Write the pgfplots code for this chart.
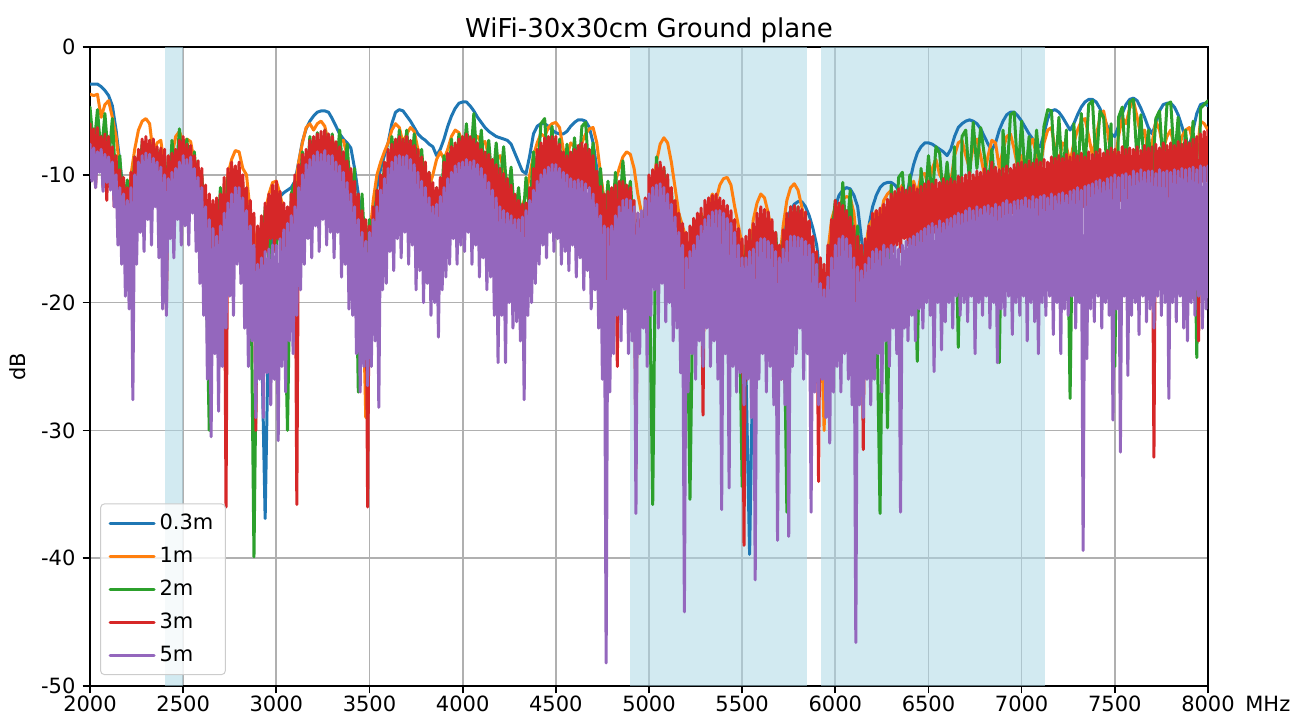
\documentclass[border=0pt]{standalone}
\usepackage{fontspec}
\setmainfont{DejaVu Sans}
\usepackage{pgfplots}
\pgfplotsset{compat=1.18}
\definecolor{tabblue}{RGB}{31,119,180}
\definecolor{taborange}{RGB}{255,127,14}
\definecolor{tabgreen}{RGB}{44,160,44}
\definecolor{tabred}{RGB}{214,39,40}
\definecolor{tabpurple}{RGB}{148,103,189}
\definecolor{shade}{RGB}{173,216,230}
\definecolor{gridc}{RGB}{176,176,176}
\definecolor{legc}{RGB}{204,204,204}
\begin{document}
\begin{tikzpicture}
\begin{axis}[
  scale only axis, width=559pt, height=319.5pt,
  xmin=2000, xmax=8000, ymin=-50, ymax=0,
  xtick={2000,2500,3000,3500,4000,4500,5000,5500,6000,6500,7000,7500,8000},
  xticklabels={2000,2500,3000,3500,4000,4500,5000,5500,6000,6500,7000,7500,8000},
  ytick={-50,-40,-30,-20,-10,0},
  yticklabels={-50,-40,-30,-20,-10,0},
  tick pos=left, tick align=outside, major tick length=3.7pt,
  tick style={black, line width=0.85pt},
  axis line style={black, line width=0.85pt},
  grid=major, grid style={gridc, line width=0.85pt},
  ticklabel style={font=\fontsize{10.5}{12.6}\selectfont},
  xticklabel style={anchor=base, inner sep=0pt, yshift=-8.9pt},
  yticklabel style={anchor=east, inner sep=0pt, xshift=-3.4pt},
  title={WiFi-30x30cm Ground plane},
  every axis title shift=0pt,
  title style={at={(rel axis cs:0.5,1.0156)}, anchor=base, inner sep=0pt, font=\fontsize{13}{15.6}\selectfont},
  ylabel={dB},
  ylabel style={at={(rel axis cs:-0.0644,0.5)}, anchor=center, inner sep=0pt, font=\fontsize{10.5}{12.6}\selectfont},
  xlabel={MHz},
  xlabel style={at={(rel axis cs:1,0)}, anchor=base west, xshift=18.5pt, yshift=-12.6pt, inner sep=0pt, font=\fontsize{10.5}{12.6}\selectfont},
  every axis plot/.append style={line width=1.5pt, line join=round, line cap=round},
  legend style={at={(rel axis cs:0.009,0.017)}, anchor=south west, draw=legc, line width=0.5pt, fill=white, fill opacity=0.8, draw opacity=1, text opacity=1, rounded corners=2pt, font=\fontsize{10.5}{12.6}\selectfont, inner xsep=4pt, inner ysep=3pt, row sep=3.3pt},
  legend cell align=left,
  legend image code/.code={\draw[#1] (0pt,0pt) -- (22pt,0pt);},
]
\addplot[draw=none, fill=shade, fill opacity=0.55, forget plot] coordinates {(2400,-50)(2400,0)(2500,0)(2500,-50)};
\addplot[draw=none, fill=shade, fill opacity=0.55, forget plot] coordinates {(4900,-50)(4900,0)(5850,0)(5850,-50)};
\addplot[draw=none, fill=shade, fill opacity=0.55, forget plot] coordinates {(5925,-50)(5925,0)(7125,0)(7125,-50)};
% 0.3m
\addplot[tabblue] coordinates {
(2000,-2.9)(2020,-2.9)(2040,-2.9)(2060,-3.1)(2080,-3.4)(2100,-3.8)(2120,-4.6)(2140,-6.5)(2160,-9)(2180,-11.5)
(2200,-13)(2220,-12)(2240,-10.5)(2260,-10)(2280,-9.5)(2300,-9.5)(2320,-9.8)(2340,-10.5)(2360,-11)(2380,-11.5)
(2400,-12)(2420,-11.5)(2440,-10.5)(2460,-10)(2480,-10)(2500,-10.2)(2520,-10.5)(2540,-11)(2560,-11.5)(2580,-12.5)
(2600,-13.5)(2620,-14.5)(2640,-14.8)(2660,-14.7)(2680,-14.8)(2700,-14.8)(2720,-14.5)(2740,-13.5)(2760,-12.5)(2780,-12)
(2800,-12)(2820,-12.5)(2840,-13.5)(2860,-15)(2880,-17)(2900,-19)(2920,-22)(2940,-36.9)(2960,-20)(2980,-15)
(3000,-12.5)(3020,-11.7)(3040,-11.4)(3060,-11.2)(3080,-11)(3100,-10.5)(3120,-9)(3140,-7.4)(3160,-6.4)(3180,-5.8)
(3200,-5.4)(3220,-5.1)(3240,-5)(3260,-5)(3280,-5.1)(3300,-5.6)(3320,-6.2)(3340,-6.8)(3360,-7.2)(3380,-7.5)
(3400,-7.9)(3420,-9.5)(3440,-11.5)(3460,-13.5)(3480,-15.6)(3500,-15)(3520,-13)(3540,-11)(3560,-9.5)(3580,-8.5)
(3600,-7.5)(3620,-6)(3640,-5.1)(3660,-4.9)(3680,-5)(3700,-5.4)(3720,-5.8)(3740,-6.3)(3760,-6.8)(3780,-7.1)
(3800,-7.3)(3820,-7.6)(3840,-7.8)(3860,-8.5)(3880,-8)(3900,-7.2)(3920,-6.2)(3940,-5.4)(3960,-4.8)(3980,-4.4)
(4000,-4.3)(4020,-4.3)(4040,-4.6)(4060,-5)(4080,-5.5)(4100,-5.9)(4120,-6.3)(4140,-6.6)(4160,-6.8)(4180,-7)
(4200,-7.1)(4220,-7.2)(4240,-7.3)(4260,-7.6)(4280,-8.3)(4300,-9)(4320,-9.7)(4340,-9.9)(4360,-8.5)(4380,-6.8)
(4400,-6.2)(4420,-6)(4440,-6)(4460,-6.2)(4480,-6.5)(4500,-6.7)(4520,-6.8)(4540,-6.8)(4560,-6.6)(4580,-6.2)
(4600,-5.9)(4620,-5.7)(4640,-5.7)(4660,-5.8)(4680,-6.3)(4700,-7.5)(4720,-9.5)(4740,-11.5)(4760,-13)(4780,-13.3)
(4800,-13)(4820,-12.5)(4840,-12.5)(4860,-13)(4880,-13.5)(4900,-14)(4920,-14.3)(4940,-14.3)(4960,-14.3)(4980,-14)
(5000,-13)(5020,-12.5)(5040,-12.5)(5060,-13)(5080,-13.5)(5100,-14)(5120,-15)(5140,-16)(5160,-17)(5180,-17.5)
(5200,-17.5)(5220,-17)(5240,-16)(5260,-15.5)(5280,-15)(5300,-15)(5320,-15)(5340,-15)(5360,-15)(5380,-15)
(5400,-15.5)(5420,-16)(5440,-16.5)(5460,-17.5)(5480,-19)(5500,-21)(5520,-25)(5540,-39.7)(5560,-22)(5580,-17)
(5600,-16)(5620,-15.5)(5640,-15.5)(5660,-16)(5680,-17)(5700,-17)(5720,-15)(5740,-13.5)(5760,-12.8)(5780,-12.3)
(5800,-12.1)(5820,-12.1)(5840,-12.5)(5860,-13.2)(5880,-14.2)(5900,-15.5)(5920,-18)(5940,-20)(5960,-17)(5980,-14)
(6000,-12.5)(6020,-11.6)(6040,-11.2)(6060,-11)(6080,-11.1)(6100,-11.6)(6120,-12.5)(6140,-15)(6160,-17)(6180,-14)
(6200,-12.5)(6220,-11.6)(6240,-11)(6260,-10.7)(6280,-10.6)(6300,-10.6)(6320,-10.8)(6340,-11.2)(6360,-11.5)(6380,-11.7)
(6400,-10.5)(6420,-9.2)(6440,-8.3)(6460,-7.8)(6480,-7.5)(6500,-7.5)(6520,-7.6)(6540,-7.8)(6560,-8)(6580,-8.2)
(6600,-8.5)(6620,-8)(6640,-7)(6660,-6.3)(6680,-6)(6700,-5.8)(6720,-5.7)(6740,-5.8)(6760,-6)(6780,-6.4)
(6800,-7)(6820,-7.6)(6840,-8.1)(6860,-7.5)(6880,-6.5)(6900,-5.8)(6920,-5.3)(6940,-5.1)(6960,-5.1)(6980,-5.4)
(7000,-5.8)(7020,-6.3)(7040,-6.8)(7060,-7.2)(7080,-7.6)(7100,-7.8)(7120,-6.8)(7140,-5.6)(7160,-5)(7180,-4.9)
(7200,-5.1)(7220,-5.5)(7240,-6)(7260,-6.5)(7280,-6)(7300,-5.3)(7320,-4.7)(7340,-4.3)(7360,-4.1)(7380,-4.1)
(7400,-4.3)(7420,-4.8)(7440,-5.5)(7460,-6.2)(7480,-6.8)(7500,-7)(7520,-6.2)(7540,-5.2)(7560,-4.5)(7580,-4.1)
(7600,-4)(7620,-4.2)(7640,-4.8)(7660,-5.5)(7680,-6.3)(7700,-6.8)(7720,-6)(7740,-5)(7760,-4.5)(7780,-4.4)
(7800,-4.4)(7820,-4.7)(7840,-5.3)(7860,-6.2)(7880,-7.2)(7900,-7.8)(7920,-6.5)(7940,-5.2)(7960,-4.5)(7980,-4.4)(8000,-4.6)
};
\addlegendentry{0.3m}
% 1m
\addplot[taborange] coordinates {
(2000,-3.7)(2020,-3.8)(2040,-3.7)(2060,-5.5)(2080,-4.5)(2100,-4.2)(2120,-5.5)(2140,-7)(2160,-9.5)(2180,-12)
(2200,-13)(2220,-10)(2240,-8)(2260,-6.5)(2280,-5.8)(2300,-5.6)(2320,-6)(2340,-8.5)(2360,-7.5)(2380,-7.3)
(2400,-9.5)(2420,-11)(2440,-8.5)(2460,-7)(2480,-6.6)(2500,-7.5)(2520,-7.2)(2540,-7.4)(2560,-9)(2580,-9.5)
(2600,-10.5)(2620,-12)(2640,-14)(2660,-16)(2680,-14.5)(2700,-13.5)(2720,-11.5)(2740,-10)(2760,-8.8)(2780,-8.1)
(2800,-8.2)(2820,-9.5)(2840,-10)(2860,-13)(2880,-14.5)(2900,-16)(2920,-15)(2940,-13)(2960,-11.5)(2980,-10.6)
(3000,-10.5)(3020,-11.5)(3040,-13)(3060,-15)(3080,-13)(3100,-11)(3120,-9)(3140,-7.5)(3160,-6.3)(3180,-6)
(3200,-6.5)(3220,-6)(3240,-5.8)(3260,-6.2)(3280,-7.5)(3300,-7.2)(3320,-8.5)(3340,-7.4)(3360,-7.3)(3380,-8.5)
(3400,-10.5)(3420,-12)(3440,-14)(3460,-16)(3480,-29)(3500,-15)(3520,-12)(3540,-10)(3560,-9)(3580,-8.2)
(3600,-7.5)(3620,-6.5)(3640,-6)(3660,-6.3)(3680,-7.5)(3700,-6.8)(3720,-6.3)(3740,-6.6)(3760,-8)(3780,-8.5)
(3800,-10)(3820,-11)(3840,-10)(3860,-8.8)(3880,-8.2)(3900,-8.8)(3920,-8)(3940,-7)(3960,-6.5)(3980,-6.7)
(4000,-7.5)(4020,-8.5)(4040,-7.5)(4060,-7.2)(4080,-7)(4100,-7.5)(4120,-7.4)(4140,-8.5)(4160,-9.5)(4180,-8.8)
(4200,-8.5)(4220,-9.5)(4240,-10.5)(4260,-11.5)(4280,-12.5)(4300,-13)(4320,-12.5)(4340,-11.5)(4360,-10)(4380,-8.5)
(4400,-7.5)(4420,-6.8)(4440,-7)(4460,-6.3)(4480,-6)(4500,-5.9)(4520,-6.3)(4540,-8)(4560,-8.5)(4580,-7.5)
(4600,-7.8)(4620,-8.5)(4640,-7.5)(4660,-6.8)(4680,-6.4)(4700,-6.3)(4720,-7.5)(4740,-9.9)(4760,-12)(4780,-13)
(4800,-12)(4820,-10.5)(4840,-9.5)(4860,-8.6)(4880,-8.2)(4900,-8.4)(4920,-9.5)(4940,-11.5)(4960,-13)(4980,-14)
(5000,-13)(5020,-11)(5040,-9)(5060,-7.6)(5080,-7.1)(5100,-7.5)(5120,-9)(5140,-11)(5160,-13)(5180,-14)
(5200,-15)(5220,-16)(5240,-14.5)(5260,-13.5)(5280,-13)(5300,-14)(5320,-12.5)(5340,-11.5)(5360,-12)(5380,-10.8)
(5400,-10.3)(5420,-10.2)(5440,-10.8)(5460,-12.5)(5480,-14)(5500,-15.5)(5520,-17)(5540,-16)(5560,-13.5)(5580,-12.2)
(5600,-11.5)(5620,-11.8)(5640,-13)(5660,-14.5)(5680,-15.5)(5700,-17)(5720,-14)(5740,-12)(5760,-11)(5780,-10.7)
(5800,-11.2)(5820,-12.5)(5840,-14)(5860,-15)(5880,-16)(5900,-18)(5920,-20)(5940,-30)(5960,-16)(5980,-13.5)
(6000,-12.5)(6020,-12.5)(6040,-11.9)(6060,-11.7)(6080,-11.8)(6100,-13)(6120,-16)(6140,-20.6)(6160,-16)(6180,-14)
(6200,-13.5)(6220,-12.8)(6240,-13.5)(6260,-12)(6280,-11.5)(6300,-11.2)(6320,-12.5)(6340,-11.3)(6360,-10.8)(6380,-12)
(6400,-11.5)(6420,-10.5)(6440,-11.5)(6460,-10)(6480,-9.9)(6500,-11)(6520,-9.5)(6540,-8.8)(6560,-10)(6580,-10.5)
(6600,-9.8)(6620,-10.5)(6640,-8.5)(6660,-7.5)(6680,-7.3)(6700,-8.5)(6720,-9.5)(6740,-7.8)(6760,-7.2)(6780,-8.5)
(6800,-10)(6820,-8.5)(6840,-7.3)(6860,-7.5)(6880,-9.5)(6900,-8)(6920,-7)(6940,-6.8)(6960,-8)(6980,-9.5)
(7000,-8.5)(7020,-9.5)(7040,-7.8)(7060,-7.2)(7080,-8.5)(7100,-9.5)(7120,-7.5)(7140,-6.5)(7160,-6.3)(7180,-8)
(7200,-9)(7220,-7.5)(7240,-7.8)(7260,-9)(7280,-7.5)(7300,-6.5)(7320,-5.8)(7340,-5.6)(7360,-7)(7380,-8.5)
(7400,-7)(7420,-5.5)(7440,-5)(7460,-6.5)(7480,-8.5)(7500,-9)(7520,-7)(7540,-5.5)(7560,-6)(7580,-4.8)
(7600,-4.2)(7620,-5.5)(7640,-7)(7660,-6.5)(7680,-8.5)(7700,-7.5)(7720,-5.8)(7740,-6.5)(7760,-8)(7780,-7)
(7800,-6.5)(7820,-8)(7840,-8.5)(7860,-7)(7880,-6.5)(7900,-6.3)(7920,-7.5)(7940,-8.5)(7960,-5.8)(7980,-6)(8000,-6.5)
};
\addlegendentry{1m}
% 2m
\addplot[tabgreen] coordinates {
(2000,-4.7)(2020,-8)(2040,-4.9)(2060,-8.5)(2080,-5.2)(2100,-9)(2120,-5.6)(2140,-11)(2160,-8.5)(2180,-13)
(2200,-10.4)(2220,-14)(2240,-8.6)(2260,-12)(2280,-7.4)(2300,-11)(2320,-7.3)(2340,-11.5)(2360,-8)(2380,-12)
(2400,-8.5)(2420,-12.5)(2440,-7.3)(2460,-10.5)(2480,-6.4)(2500,-10)(2520,-7.2)(2540,-11)(2560,-8.2)(2580,-12)
(2600,-10)(2620,-15)(2640,-30)(2660,-12.5)(2680,-16)(2700,-11)(2720,-14.5)(2740,-10.2)(2760,-14)(2780,-10)
(2800,-14)(2820,-10.8)(2840,-16)(2860,-12.2)(2880,-39.9)(2900,-14.5)(2920,-19)(2940,-12.5)(2960,-17)(2980,-11.5)
(3000,-16)(3020,-11.5)(3040,-16.5)(3060,-30)(3080,-11.5)(3100,-10.5)(3120,-13)(3140,-8.2)(3160,-11.5)(3180,-7)
(3200,-10.5)(3220,-6.7)(3240,-10)(3260,-6.5)(3280,-10.5)(3300,-6.8)(3320,-10)(3340,-6.5)(3360,-10.5)(3380,-7.6)
(3400,-12)(3420,-9.5)(3440,-27)(3460,-11.5)(3480,-17)(3500,-13.5)(3520,-16)(3540,-11.2)(3560,-14)(3580,-9)
(3600,-11.5)(3620,-7)(3640,-10.5)(3660,-6.5)(3680,-10)(3700,-6.5)(3720,-10.5)(3740,-6.8)(3760,-10.5)(3780,-8)
(3800,-12.5)(3820,-9.8)(3840,-14)(3860,-11)(3880,-13.5)(3900,-8.5)(3920,-12)(3940,-7.2)(3960,-10.5)(3980,-6.8)
(4000,-10)(4020,-6)(4040,-9.5)(4060,-5.2)(4080,-9.5)(4100,-6.5)(4120,-10.5)(4140,-7.3)(4160,-11)(4180,-7.5)
(4200,-11)(4220,-7.8)(4240,-12)(4260,-9.4)(4280,-13.5)(4300,-11)(4320,-14.5)(4340,-10.2)(4360,-13)(4380,-8.2)
(4400,-10.5)(4420,-6)(4440,-5.6)(4460,-10)(4480,-6.2)(4500,-11)(4520,-7.2)(4540,-12)(4560,-7.6)(4580,-11.5)
(4600,-7.1)(4620,-10.5)(4640,-6.2)(4660,-5.9)(4680,-10.5)(4700,-7.5)(4720,-12)(4740,-9.5)(4760,-14)(4780,-10.5)
(4800,-14.5)(4820,-9.8)(4840,-13.5)(4860,-8.9)(4880,-12.5)(4900,-10.5)(4920,-15)(4940,-13.5)(4960,-18)(4980,-12.5)
(5000,-15)(5020,-35.8)(5040,-8.6)(5060,-12.5)(5080,-9.5)(5100,-14)(5120,-11.2)(5140,-15.5)(5160,-13.2)(5180,-18)
(5200,-15)(5220,-35.4)(5240,-14.5)(5260,-18.5)(5280,-13.2)(5300,-17.5)(5320,-12.5)(5340,-16.5)(5360,-12)(5380,-17)
(5400,-12.5)(5420,-17)(5440,-13.5)(5460,-18.5)(5480,-15)(5500,-34.4)(5520,-15.5)(5540,-20)(5560,-14.5)(5580,-18.5)
(5600,-13)(5620,-18)(5640,-13.3)(5660,-18.5)(5680,-14.5)(5700,-19.5)(5720,-15)(5740,-36.4)(5760,-12.5)(5780,-17)
(5800,-12.5)(5820,-17.5)(5840,-13.2)(5860,-18.5)(5880,-15.5)(5900,-21)(5920,-16.8)(5940,-22)(5960,-17.5)(5980,-15)
(6000,-12)(6020,-16)(6040,-10.6)(6060,-15)(6080,-11.2)(6100,-16.5)(6120,-14)(6140,-19)(6160,-16)(6180,-20)
(6200,-13.5)(6220,-18)(6240,-36.5)(6260,-12.5)(6280,-29.8)(6300,-10.8)(6320,-15)(6340,-10.2)(6360,-9.8)(6380,-14)
(6400,-10)(6420,-13.5)(6440,-24.6)(6460,-9.5)(6480,-12.5)(6500,-8.5)(6520,-12)(6540,-7.8)(6560,-8.3)(6580,-12)
(6600,-9)(6620,-12.5)(6640,-7.8)(6660,-23.5)(6680,-7)(6700,-6.5)(6720,-10.5)(6740,-5.9)(6760,-9.5)(6780,-6.3)
(6800,-8.5)(6820,-11)(6840,-8)(6860,-11.5)(6880,-24.7)(6900,-6.5)(6920,-10.5)(6940,-5.3)(6960,-5.1)(6980,-10)
(7000,-5.8)(7020,-10.5)(7040,-7)(7060,-11)(7080,-6.5)(7100,-10)(7120,-6.2)(7140,-4.9)(7160,-5)(7180,-10)
(7200,-5.5)(7220,-10.5)(7240,-6.5)(7260,-27.5)(7280,-6)(7300,-10.5)(7320,-5.2)(7340,-9.5)(7360,-4.5)(7380,-4.2)
(7400,-9.5)(7420,-5)(7440,-5.5)(7460,-10)(7480,-6)(7500,-25)(7520,-5.5)(7540,-4.7)(7560,-9.5)(7580,-4.3)
(7600,-4.1)(7620,-9)(7640,-5.3)(7660,-10)(7680,-6.5)(7700,-10.5)(7720,-5.6)(7740,-5)(7760,-9.5)(7780,-4.5)
(7800,-4.3)(7820,-9)(7840,-5.5)(7860,-10.5)(7880,-6.5)(7900,-10)(7920,-5.8)(7940,-24.3)(7960,-4.8)(7980,-4.5)(8000,-4.2)
};
\addlegendentry{2m}
% 3m
\addplot[tabred] coordinates {
(2000,-6)(2010,-9.5)(2020,-6.4)(2030,-11)(2040,-6.3)(2050,-9.5)(2060,-7)(2070,-11)(2080,-6.8)(2090,-12)
(2100,-7)(2110,-11)(2120,-7.8)(2130,-12.5)(2140,-8.5)(2150,-13)(2160,-9.6)(2170,-14)(2180,-10.2)(2190,-15)
(2200,-11)(2210,-16)(2220,-9.8)(2230,-15)(2240,-8.6)(2250,-12)(2260,-8)(2270,-12.5)(2280,-7.2)(2290,-11)
(2300,-7)(2310,-10.5)(2320,-7.3)(2330,-12)(2340,-7.2)(2350,-11)(2360,-7.8)(2370,-12.5)(2380,-7.9)(2390,-13)
(2400,-8)(2410,-20.6)(2420,-8.5)(2430,-13)(2440,-8.3)(2450,-12)(2460,-8)(2470,-12.5)(2480,-7.3)(2490,-11)
(2500,-7)(2510,-11.5)(2520,-7.6)(2530,-12)(2540,-7.7)(2550,-11.5)(2560,-8.5)(2570,-13)(2580,-8.9)(2590,-14)
(2600,-9.5)(2610,-15)(2620,-10.8)(2630,-20)(2640,-11.5)(2650,-17)(2660,-12)(2670,-16)(2680,-11.8)(2690,-24)
(2700,-11.5)(2710,-16)(2720,-10.2)(2730,-36)(2740,-9.5)(2750,-14)(2760,-9)(2770,-13.5)(2780,-9.3)(2790,-13)
(2800,-9)(2810,-13)(2820,-10)(2830,-15)(2840,-11)(2850,-22)(2860,-12)(2870,-17)(2880,-13)(2890,-30)
(2900,-14)(2910,-19)(2920,-13.2)(2930,-26)(2940,-12.2)(2950,-16)(2960,-11.5)(2970,-15)(2980,-10.8)(2990,-16)
(3000,-10.5)(3010,-15)(3020,-11.3)(3030,-16.5)(3040,-12.2)(3050,-17)(3060,-12.5)(3070,-16)(3080,-11.5)(3090,-15)
(3100,-10)(3110,-35.8)(3120,-9.2)(3130,-13)(3140,-8.4)(3150,-12)(3160,-8)(3170,-11.5)(3180,-7.3)(3190,-11)
(3200,-7)(3210,-10.5)(3220,-6.8)(3230,-11)(3240,-6.6)(3250,-9.5)(3260,-6.5)(3270,-10.5)(3280,-6.8)(3290,-11)
(3300,-7)(3310,-10.5)(3320,-7.4)(3330,-11.5)(3340,-7.8)(3350,-12)(3360,-8.2)(3370,-12)(3380,-8.9)(3390,-13.5)
(3400,-9.5)(3410,-14)(3420,-10.5)(3430,-16)(3440,-11.5)(3450,-22)(3460,-12.8)(3470,-18)(3480,-13.5)(3490,-36)
(3500,-14)(3510,-19)(3520,-12.5)(3530,-17)(3540,-11.2)(3550,-15)(3560,-10)(3570,-14)(3580,-9)(3590,-13)
(3600,-8)(3610,-11.5)(3620,-7.6)(3630,-12)(3640,-7.2)(3650,-10.5)(3660,-7)(3670,-11)(3680,-7.2)(3690,-10.5)
(3700,-7)(3710,-11)(3720,-7.3)(3730,-10.5)(3740,-7.7)(3750,-12)(3760,-8)(3770,-12)(3780,-8.6)(3790,-13)
(3800,-9)(3810,-13.5)(3820,-9.8)(3830,-14)(3840,-10.6)(3850,-15)(3860,-11)(3870,-16)(3880,-10.2)(3890,-14)
(3900,-9)(3910,-13)(3920,-8.3)(3930,-12)(3940,-7.8)(3950,-11)(3960,-7.5)(3970,-11.5)(3980,-7.2)(3990,-10.5)
(4000,-7)(4010,-10.5)(4020,-6.8)(4030,-11)(4040,-7)(4050,-10)(4060,-7.2)(4070,-11)(4080,-7.5)(4090,-11.5)
(4100,-8)(4110,-12)(4120,-8.2)(4130,-12.5)(4140,-8.4)(4150,-12)(4160,-8.8)(4170,-13)(4180,-9.2)(4190,-14)
(4200,-9.5)(4210,-13.5)(4220,-9.9)(4230,-14.5)(4240,-10.3)(4250,-15)(4260,-10.8)(4270,-15)(4280,-11.5)(4290,-16)
(4300,-12)(4310,-16)(4320,-12.3)(4330,-17)(4340,-12.2)(4350,-16.5)(4360,-11)(4370,-15)(4380,-9.5)(4390,-13)
(4400,-8)(4410,-11.5)(4420,-7.5)(4430,-11)(4440,-7.1)(4450,-10.5)(4460,-7)(4470,-11)(4480,-7)(4490,-10.5)
(4500,-7)(4510,-11)(4520,-7.6)(4530,-12)(4540,-8.2)(4550,-12.5)(4560,-8.5)(4570,-12)(4580,-8.2)(4590,-11.5)
(4600,-8)(4610,-11.5)(4620,-7.7)(4630,-11)(4640,-7.5)(4650,-11.5)(4660,-7.6)(4670,-11)(4680,-8)(4690,-12)
(4700,-8.5)(4710,-12.5)(4720,-9.7)(4730,-14)(4740,-10.9)(4750,-15)(4760,-11.5)(4770,-22)(4780,-11.3)(4790,-15.5)
(4800,-11)(4810,-15)(4820,-10.8)(4830,-25)(4840,-10.5)(4850,-14.5)(4860,-10.5)(4870,-15)(4880,-10.8)(4890,-15)
(4900,-11)(4910,-15.5)(4920,-12)(4930,-33)(4940,-13)(4950,-18)(4960,-13.3)(4970,-18)(4980,-11.8)(4990,-22)
(5000,-10)(5010,-14.5)(5020,-9.6)(5030,-13.5)(5040,-9.2)(5050,-14)(5060,-9)(5070,-13)(5080,-9.4)(5090,-14)
(5100,-10)(5110,-14.5)(5120,-11)(5130,-15.5)(5140,-12)(5150,-16)(5160,-13)(5170,-17)(5180,-13.8)(5190,-19)
(5200,-14.5)(5210,-24)(5220,-14)(5230,-19)(5240,-13.4)(5250,-18)(5260,-13)(5270,-17)(5280,-12.6)(5290,-28.8)
(5300,-12)(5310,-16.5)(5320,-11.8)(5330,-16)(5340,-11.6)(5350,-16.5)(5360,-11.5)(5370,-16)(5380,-11.8)(5390,-17)
(5400,-12)(5410,-17)(5420,-12.4)(5430,-17.5)(5440,-12.8)(5450,-18)(5460,-13.5)(5470,-19)(5480,-14.2)(5490,-20)
(5500,-15)(5510,-39)(5520,-14.8)(5530,-20)(5540,-14.3)(5550,-25)(5560,-13.8)(5570,-19)(5580,-13)(5590,-18)
(5600,-12.5)(5610,-17)(5620,-12.7)(5630,-18)(5640,-12.9)(5650,-18)(5660,-13.5)(5670,-19)(5680,-14.5)(5690,-20)
(5700,-15.5)(5710,-26)(5720,-14.3)(5730,-19)(5740,-13)(5750,-18)(5760,-12.5)(5770,-17)(5780,-12.4)(5790,-17.5)
(5800,-12.5)(5810,-17)(5820,-12.7)(5830,-18)(5840,-12.9)(5850,-18.5)(5860,-13.6)(5870,-19)(5880,-14.8)(5890,-21)
(5900,-16)(5910,-34)(5920,-16.5)(5930,-22)(5940,-17)(5950,-27)(5960,-15.5)(5970,-21)(5980,-13.5)(5990,-18)
(6000,-12)(6010,-17)(6020,-12.2)(6030,-17.5)(6040,-12.4)(6050,-17)(6060,-12.8)(6070,-18)(6080,-13.3)(6090,-19)
(6100,-14)(6110,-26)(6120,-14.8)(6130,-21)(6140,-15.5)(6150,-31.5)(6160,-15)(6170,-20)(6180,-14)(6190,-19)
(6200,-13)(6210,-17.5)(6220,-12.8)(6230,-17)(6240,-12.6)(6250,-17.5)(6260,-12.3)(6270,-16.5)(6280,-11.9)(6290,-16)
(6300,-11.5)(6310,-16)(6320,-11.3)(6330,-15.5)(6340,-11.1)(6350,-16)(6360,-11)(6370,-15)(6380,-11.2)(6390,-15.5)
(6400,-11)(6410,-15.5)(6420,-10.8)(6430,-16)(6440,-11.1)(6450,-15)(6460,-10.9)(6470,-15.5)(6480,-10.7)(6490,-15)
(6500,-10.5)(6510,-15)(6520,-10.7)(6530,-14.5)(6540,-10.4)(6550,-15.5)(6560,-10.6)(6570,-14.5)(6580,-10.3)(6590,-15)
(6600,-10.5)(6610,-14.5)(6620,-10.3)(6630,-15)(6640,-10.5)(6650,-14)(6660,-10.1)(6670,-15)(6680,-10.2)(6690,-14.5)
(6700,-10)(6710,-14.5)(6720,-9.8)(6730,-14)(6740,-10)(6750,-14.5)(6760,-9.7)(6770,-13.5)(6780,-9.8)(6790,-14.5)
(6800,-9.5)(6810,-14)(6820,-9.7)(6830,-13.5)(6840,-9)(6850,-14.5)(6860,-9.4)(6870,-13.5)(6880,-9.6)(6890,-14)
(6900,-9.5)(6910,-13.5)(6920,-9.3)(6930,-14)(6940,-9.5)(6950,-13)(6960,-9.2)(6970,-14)(6980,-9.1)(6990,-13.5)
(7000,-9)(7010,-13.5)(7020,-9.2)(7030,-13)(7040,-8.9)(7050,-14)(7060,-9.1)(7070,-13)(7080,-8.8)(7090,-13.5)
(7100,-9)(7110,-13)(7120,-8.8)(7130,-14)(7140,-9)(7150,-12.5)(7160,-8.6)(7170,-13.5)(7180,-8.7)(7190,-13)
(7200,-8.5)(7210,-13)(7220,-8.7)(7230,-12.5)(7240,-8.4)(7250,-13.5)(7260,-8.6)(7270,-12.5)(7280,-8.3)(7290,-13)
(7300,-8.5)(7310,-13)(7320,-8.3)(7330,-12.5)(7340,-8.6)(7350,-13.5)(7360,-8.2)(7370,-12.5)(7380,-8.4)(7390,-13)
(7400,-8.2)(7410,-12.5)(7420,-8)(7430,-13)(7440,-8.3)(7450,-12)(7460,-8.1)(7470,-13)(7480,-7.9)(7490,-12.5)
(7500,-8)(7510,-12.5)(7520,-8.2)(7530,-12)(7540,-7.8)(7550,-13)(7560,-8)(7570,-12)(7580,-7.9)(7590,-12.5)
(7600,-8)(7610,-12)(7620,-7.8)(7630,-12.5)(7640,-8.1)(7650,-11.5)(7660,-7.7)(7670,-12.5)(7680,-7.9)(7690,-12)
(7700,-7.8)(7710,-32.1)(7720,-7.6)(7730,-12)(7740,-7.9)(7750,-11.5)(7760,-7.5)(7770,-12.5)(7780,-7.7)(7790,-12)
(7800,-7.5)(7810,-11.5)(7820,-7.7)(7830,-12)(7840,-7.4)(7850,-11)(7860,-7.6)(7870,-12)(7880,-7.3)(7890,-11.5)
(7900,-7.5)(7910,-11.5)(7920,-7.2)(7930,-11)(7940,-7)(7950,-23)(7960,-6.8)(7970,-10.5)(7980,-6.6)(7990,-10.5)(8000,-6.5)
};
\addlegendentry{3m}
% 5m
\addplot[tabpurple] coordinates {
(2000,-7.6)(2010,-10.5)(2020,-7.9)(2030,-11)(2040,-8.2)(2050,-9.8)(2060,-8)(2070,-11.3)(2080,-8.4)(2090,-10.6)
(2100,-8.6)(2110,-11.2)(2120,-9)(2130,-12.5)(2140,-10)(2150,-15.5)(2160,-11)(2170,-17)(2180,-11.5)(2190,-19.5)
(2200,-12)(2210,-20.5)(2220,-11)(2230,-27.6)(2240,-10)(2250,-17)(2260,-9)(2270,-14.5)(2280,-8.5)(2290,-16)
(2300,-8.3)(2310,-13.5)(2320,-8.4)(2330,-15.5)(2340,-8.7)(2350,-12.5)(2360,-9)(2370,-16.5)(2380,-9.4)(2390,-20.5)
(2400,-10)(2410,-21)(2420,-10.3)(2430,-15)(2440,-9.8)(2450,-16.5)(2460,-9.5)(2470,-13.5)(2480,-9)(2490,-15.5)
(2500,-8.5)(2510,-14)(2520,-8.8)(2530,-15.5)(2540,-8.6)(2550,-13)(2560,-9.5)(2570,-16)(2580,-10.2)(2590,-18.5)
(2600,-11)(2610,-21)(2620,-12.5)(2630,-26)(2640,-13.5)(2650,-30.5)(2660,-14.2)(2670,-24)(2680,-14.8)(2690,-28.5)
(2700,-14)(2710,-25)(2720,-13)(2730,-22)(2740,-12.2)(2750,-19.5)(2760,-11.5)(2770,-21)(2780,-11)(2790,-17)
(2800,-11)(2810,-18.5)(2820,-11.8)(2830,-22)(2840,-12.8)(2850,-25)(2860,-14)(2870,-23)(2880,-15.5)(2890,-29)
(2900,-17)(2910,-26)(2920,-16.5)(2930,-29)(2940,-16)(2950,-25.5)(2960,-15.8)(2970,-28)(2980,-15.5)(2990,-26)
(3000,-15.5)(3010,-30.8)(3020,-15)(3030,-25)(3040,-14.3)(3050,-27)(3060,-13.8)(3070,-23)(3080,-13.2)(3090,-24)
(3100,-12.5)(3110,-21)(3120,-11)(3130,-19)(3140,-10)(3150,-17)(3160,-9.2)(3170,-15)(3180,-8.8)(3190,-16.5)
(3200,-8.5)(3210,-14)(3220,-8.2)(3230,-16)(3240,-8.4)(3250,-13.5)(3260,-8.1)(3270,-15.5)(3280,-8.5)(3290,-14.5)
(3300,-8.5)(3310,-16.5)(3320,-9)(3330,-14.5)(3340,-9.3)(3350,-18)(3360,-9.8)(3370,-17)(3380,-10.6)(3390,-20.5)
(3400,-11.5)(3410,-21)(3420,-12.5)(3430,-24)(3440,-13.5)(3450,-27)(3460,-14.5)(3470,-25)(3480,-15.2)(3490,-26.5)
(3500,-14.5)(3510,-25)(3520,-13.5)(3530,-23)(3540,-12.5)(3550,-28.2)(3560,-11.2)(3570,-19)(3580,-10.3)(3590,-18.5)
(3600,-9.5)(3610,-16)(3620,-9)(3630,-17.5)(3640,-8.6)(3650,-15)(3660,-8.5)(3670,-16.5)(3680,-8.6)(3690,-14.5)
(3700,-8.5)(3710,-17)(3720,-8.8)(3730,-15.5)(3740,-9.2)(3750,-19)(3760,-9.8)(3770,-17.5)(3780,-10.5)(3790,-20)
(3800,-11)(3810,-18.5)(3820,-11.8)(3830,-21)(3840,-12.5)(3850,-20)(3860,-12.3)(3870,-22.7)(3880,-11.7)(3890,-19)
(3900,-11)(3910,-18)(3920,-10.3)(3930,-17)(3940,-9.8)(3950,-15)(3960,-9.3)(3970,-17)(3980,-9.1)(3990,-15.5)
(4000,-9)(4010,-16)(4020,-8.8)(4030,-14.5)(4040,-9)(4050,-17)(4060,-8.9)(4070,-15.5)(4080,-9.2)(4090,-18)
(4100,-9.5)(4110,-16.5)(4120,-10)(4130,-19)(4140,-10.6)(4150,-18)(4160,-11.2)(4170,-21)(4180,-11.8)(4190,-24.7)
(4200,-12.5)(4210,-21)(4220,-12.8)(4230,-24.7)(4240,-13)(4250,-20)(4260,-13.2)(4270,-22)(4280,-13.5)(4290,-21.5)
(4300,-13.5)(4310,-23)(4320,-13.3)(4330,-27.6)(4340,-12.8)(4350,-21)(4360,-12)(4370,-20)(4380,-11.2)(4390,-18.5)
(4400,-10.5)(4410,-17)(4420,-10)(4430,-15.5)(4440,-9.6)(4450,-16.5)(4460,-9.4)(4470,-14.5)(4480,-9.2)(4490,-16)
(4500,-9.2)(4510,-15)(4520,-9.5)(4530,-17)(4540,-9.8)(4550,-16)(4560,-10)(4570,-17.5)(4580,-10.3)(4590,-15.5)
(4600,-10.5)(4610,-18)(4620,-10.4)(4630,-16.5)(4640,-10.5)(4650,-19)(4660,-10.7)(4670,-17.5)(4680,-11)(4690,-20.5)
(4700,-11.5)(4710,-19)(4720,-12.3)(4730,-22)(4740,-13.2)(4750,-26)(4760,-14)(4770,-48.2)(4780,-14.2)(4790,-27)
(4800,-14)(4810,-24)(4820,-13.2)(4830,-21)(4840,-12.5)(4850,-23)(4860,-12)(4870,-20.5)(4880,-11.9)(4890,-24)
(4900,-12)(4910,-23)(4920,-12.5)(4930,-36.5)(4940,-13)(4950,-24)(4960,-12.8)(4970,-22)(4980,-12)(4990,-25)
(5000,-11.5)(5010,-21)(5020,-11)(5030,-19)(5040,-10.8)(5050,-22)(5060,-10.7)(5070,-18.5)(5080,-11)(5090,-21.5)
(5100,-11.5)(5110,-20)(5120,-12.3)(5130,-23)(5140,-13.3)(5150,-22)(5160,-14.5)(5170,-25.5)(5180,-15.5)(5190,-44.2)
(5200,-16.5)(5210,-27)(5220,-16)(5230,-24)(5240,-15.5)(5250,-26)(5260,-14.8)(5270,-23)(5280,-14)(5290,-25)
(5300,-13.5)(5310,-22)(5320,-13.2)(5330,-25)(5340,-12.9)(5350,-23)(5360,-12.8)(5370,-26)(5380,-12.8)(5390,-36.2)
(5400,-13)(5410,-24)(5420,-13.4)(5430,-34.5)(5440,-13.8)(5450,-25)(5460,-14.5)(5470,-27)(5480,-15.5)(5490,-25.5)
(5500,-16.5)(5510,-28)(5520,-16.5)(5530,-26)(5540,-16)(5550,-29)(5560,-15.8)(5570,-41.7)(5580,-15.3)(5590,-26)
(5600,-15)(5610,-24)(5620,-15)(5630,-27)(5640,-15.2)(5650,-25)(5660,-15.5)(5670,-28)(5680,-16)(5690,-38.6)
(5700,-16.5)(5710,-26)(5720,-15.8)(5730,-28)(5740,-15.2)(5750,-38.3)(5760,-14.8)(5770,-25)(5780,-14.8)(5790,-24)
(5800,-14.9)(5810,-22)(5820,-15)(5830,-26)(5840,-15.2)(5850,-24)(5860,-15.5)(5870,-36.4)(5880,-16.2)(5890,-27)
(5900,-17)(5910,-28)(5920,-18.5)(5930,-26)(5940,-19)(5950,-29)(5960,-18)(5970,-31)(5980,-16.5)(5990,-27)
(6000,-15.5)(6010,-25)(6020,-15)(6030,-27)(6040,-14.8)(6050,-24)(6060,-15)(6070,-26)(6080,-15.5)(6090,-28)
(6100,-16.5)(6110,-46.6)(6120,-17.2)(6130,-28)(6140,-17.5)(6150,-29)(6160,-17)(6170,-26)(6180,-16.5)(6190,-28)
(6200,-16)(6210,-26)(6220,-15.8)(6230,-24)(6240,-16)(6250,-27)(6260,-15.5)(6270,-23)(6280,-15.8)(6290,-25)
(6300,-15.5)(6310,-22)(6320,-15.6)(6330,-24)(6340,-15.8)(6350,-36.4)(6360,-15.5)(6370,-22)(6380,-15.2)(6390,-23)
(6400,-15)(6410,-21)(6420,-14.8)(6430,-23)(6440,-14.6)(6450,-20.5)(6460,-14.4)(6470,-22)(6480,-14.2)(6490,-20)
(6500,-14)(6510,-21)(6520,-13.8)(6530,-25.4)(6540,-14)(6550,-20)(6560,-13.6)(6570,-23.7)(6580,-13.8)(6590,-21.5)
(6600,-13.5)(6610,-20)(6620,-13.4)(6630,-22)(6640,-13.2)(6650,-19.5)(6660,-13)(6670,-21)(6680,-13.1)(6690,-20)
(6700,-12.8)(6710,-21.5)(6720,-12.6)(6730,-19.5)(6740,-12.8)(6750,-24)(6760,-12.5)(6770,-20)(6780,-12.7)(6790,-21)
(6800,-12.5)(6810,-19.5)(6820,-12.4)(6830,-22)(6840,-12.6)(6850,-20)(6860,-12.3)(6870,-24.7)(6880,-12.5)(6890,-20.5)
(6900,-12.2)(6910,-21)(6920,-12)(6930,-19.5)(6940,-12.3)(6950,-22.5)(6960,-12.1)(6970,-20)(6980,-12)(6990,-21)
(7000,-12)(7010,-19.5)(7020,-11.8)(7030,-23)(7040,-12)(7050,-20)(7060,-11.7)(7070,-21.5)(7080,-11.9)(7090,-24)
(7100,-11.7)(7110,-20)(7120,-11.6)(7130,-21)(7140,-11.8)(7150,-19.5)(7160,-11.5)(7170,-22.5)(7180,-11.7)(7190,-20)
(7200,-11.5)(7210,-24)(7220,-11.4)(7230,-20.5)(7240,-11.6)(7250,-21)(7260,-11.3)(7270,-19.5)(7280,-11.2)(7290,-22)
(7300,-11)(7310,-20)(7320,-11.2)(7330,-39.4)(7340,-10.9)(7350,-24.4)(7360,-10.8)(7370,-20.5)(7380,-10.7)(7390,-21.5)
(7400,-10.5)(7410,-19.5)(7420,-10.4)(7430,-22)(7440,-10.6)(7450,-20)(7460,-10.3)(7470,-21)(7480,-10.2)(7490,-29.2)
(7500,-10)(7510,-20.5)(7520,-10.2)(7530,-31.7)(7540,-10)(7550,-19.5)(7560,-9.9)(7570,-25.7)(7580,-10.1)(7590,-21)
(7600,-9.7)(7610,-20)(7620,-9.9)(7630,-22.5)(7640,-9.6)(7650,-19.5)(7660,-9.8)(7670,-21.5)(7680,-9.7)(7690,-20.5)
(7700,-9.7)(7710,-22)(7720,-9.9)(7730,-19.5)(7740,-9.6)(7750,-21)(7760,-9.8)(7770,-20)(7780,-9.7)(7790,-27.5)
(7800,-9.8)(7810,-20)(7820,-9.6)(7830,-21.5)(7840,-9.7)(7850,-19.5)(7860,-9.5)(7870,-22)(7880,-9.6)(7890,-23)
(7900,-9.5)(7910,-20)(7920,-9.4)(7930,-21)(7940,-9.6)(7950,-19.5)(7960,-9.3)(7970,-22)(7980,-9.4)(7990,-20.5)(8000,-9.3)
};
\addlegendentry{5m}
\coordinate (bbsw) at (rel axis cs:-0.0805,-0.0563);
\coordinate (bbne) at (rel axis cs:1.0868,1.0736);
\end{axis}
\path (bbsw) rectangle (bbne);
\end{tikzpicture}
\end{document}
